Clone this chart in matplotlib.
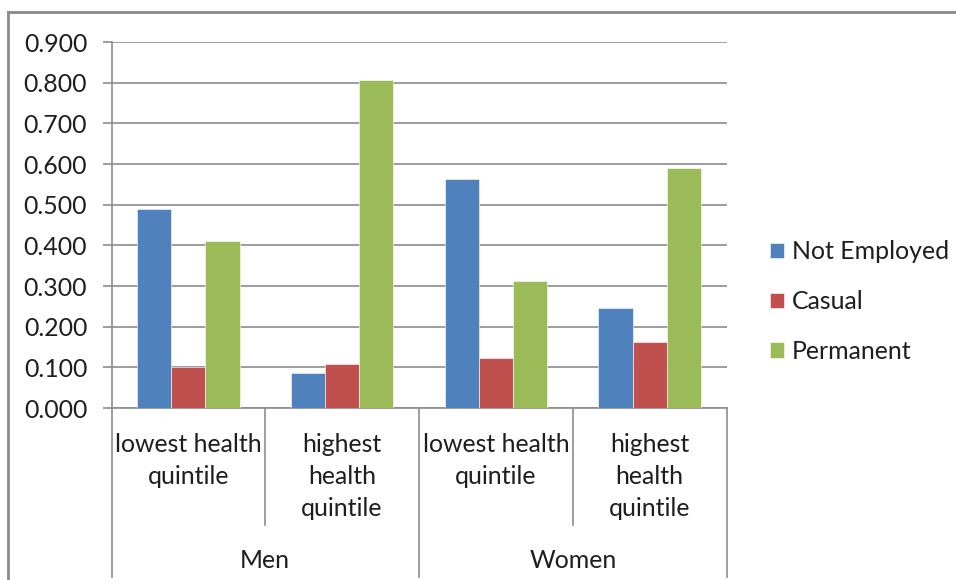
import numpy as np
import matplotlib
matplotlib.use("Agg")
import matplotlib.pyplot as plt
from matplotlib.lines import Line2D
from matplotlib.patches import Patch
import matplotlib.transforms as mtransforms

# Employment status shares by health quintile and sex
groups = ["Men", "Women"]
subcategories = ["lowest health\nquintile", "highest\nhealth\nquintile",
                 "lowest health\nquintile", "highest\nhealth\nquintile"]
series_names = ["Not Employed", "Casual", "Permanent"]
not_employed = [0.490, 0.086, 0.563, 0.247]
casual = [0.100, 0.108, 0.124, 0.162]
permanent = [0.411, 0.806, 0.313, 0.591]
y_ticks = [0.0, 0.1, 0.2, 0.3, 0.4, 0.5, 0.6, 0.7, 0.8, 0.9]

colors = ["#4F81BD", "#C0504D", "#9BBB59"]
grid_color = "#8C8C8C"
text_color = "#1E1E1E"

plt.rcParams["font.family"] = ["Lato", "DejaVu Sans"]
FS = 17.9

W, H = 956, 580
fig = plt.figure(figsize=(W / 100, H / 100), dpi=100)
ax_l, ax_r, ax_t, ax_b = 111.5, 726.5, 42, 408
ax = fig.add_axes([ax_l / W, (H - ax_b) / H, (ax_r - ax_l) / W, (ax_b - ax_t) / H])

x = np.arange(len(subcategories))
bw = 0.222
for i, (vals, c) in enumerate(zip([not_employed, casual, permanent], colors)):
    ax.bar(x + (i - 1) * bw, vals, width=bw, color=c, edgecolor="white",
           linewidth=0.4, zorder=3)

ax.set_xlim(-0.5, len(subcategories) - 0.5)
ax.set_ylim(0, 0.9)
ax.set_yticks(y_ticks)
ax.set_yticklabels([f"{v:.3f}" for v in y_ticks], fontsize=FS, color=text_color)
ax.tick_params(axis="y", length=6.5, width=1.2, color=grid_color, pad=11)
ax.set_xticks([])
ax.yaxis.grid(True, color=grid_color, linewidth=1.2, zorder=0)
for s in ["top", "right"]:
    ax.spines[s].set_visible(False)
for s in ["left", "bottom"]:
    ax.spines[s].set_color(grid_color)
    ax.spines[s].set_linewidth(1.2)

# Multi-level category axis below the plot
trans = mtransforms.blended_transform_factory(ax.transData, ax.transAxes)
ax_h = ax_b - ax_t
def frac(ypix):
    return (ax_b - ypix) / ax_h

y_bottom = frac(577)
y_mid = frac(525)
for xv, yb in [(-0.5, y_bottom), (0.5, y_mid), (1.5, y_bottom), (2.5, y_mid), (3.5, y_bottom)]:
    ax.add_line(Line2D([xv, xv], [0, yb], transform=trans, color=grid_color,
                       linewidth=1.2, clip_on=False))

for xi, lab in zip(x, subcategories):
    ax.text(xi, frac(432.5), lab, transform=trans, ha="center", va="top",
            fontsize=FS, color=text_color, linespacing=1.49, multialignment="center")

for gi, g in enumerate(groups):
    ax.text(gi * 2 + 0.5, frac(560), g, transform=trans, ha="center", va="center",
            fontsize=FS, color=text_color)

# Legend
handles = [Patch(facecolor=c, edgecolor="white", linewidth=0.4) for c in colors]
fig.legend(handles, series_names, loc="center left",
           bbox_to_anchor=(770 / W, (H - 301.5) / H), frameon=False,
           fontsize=FS, handlelength=0.57, handleheight=0.57, handletextpad=0.3,
           labelspacing=1.08, borderpad=0, borderaxespad=0, labelcolor=text_color)

# Chart area border
fig.add_artist(Line2D([7.5 / W, 1.0], [(H - 12.3) / H] * 2, color="#8A8A8A",
                      linewidth=2.0, transform=fig.transFigure))
fig.add_artist(Line2D([7.5 / W] * 2, [(H - 12.3) / H, 0.0], color="#8A8A8A",
                      linewidth=2.0, transform=fig.transFigure))

fig.savefig("out.png", dpi=100, facecolor="white")
